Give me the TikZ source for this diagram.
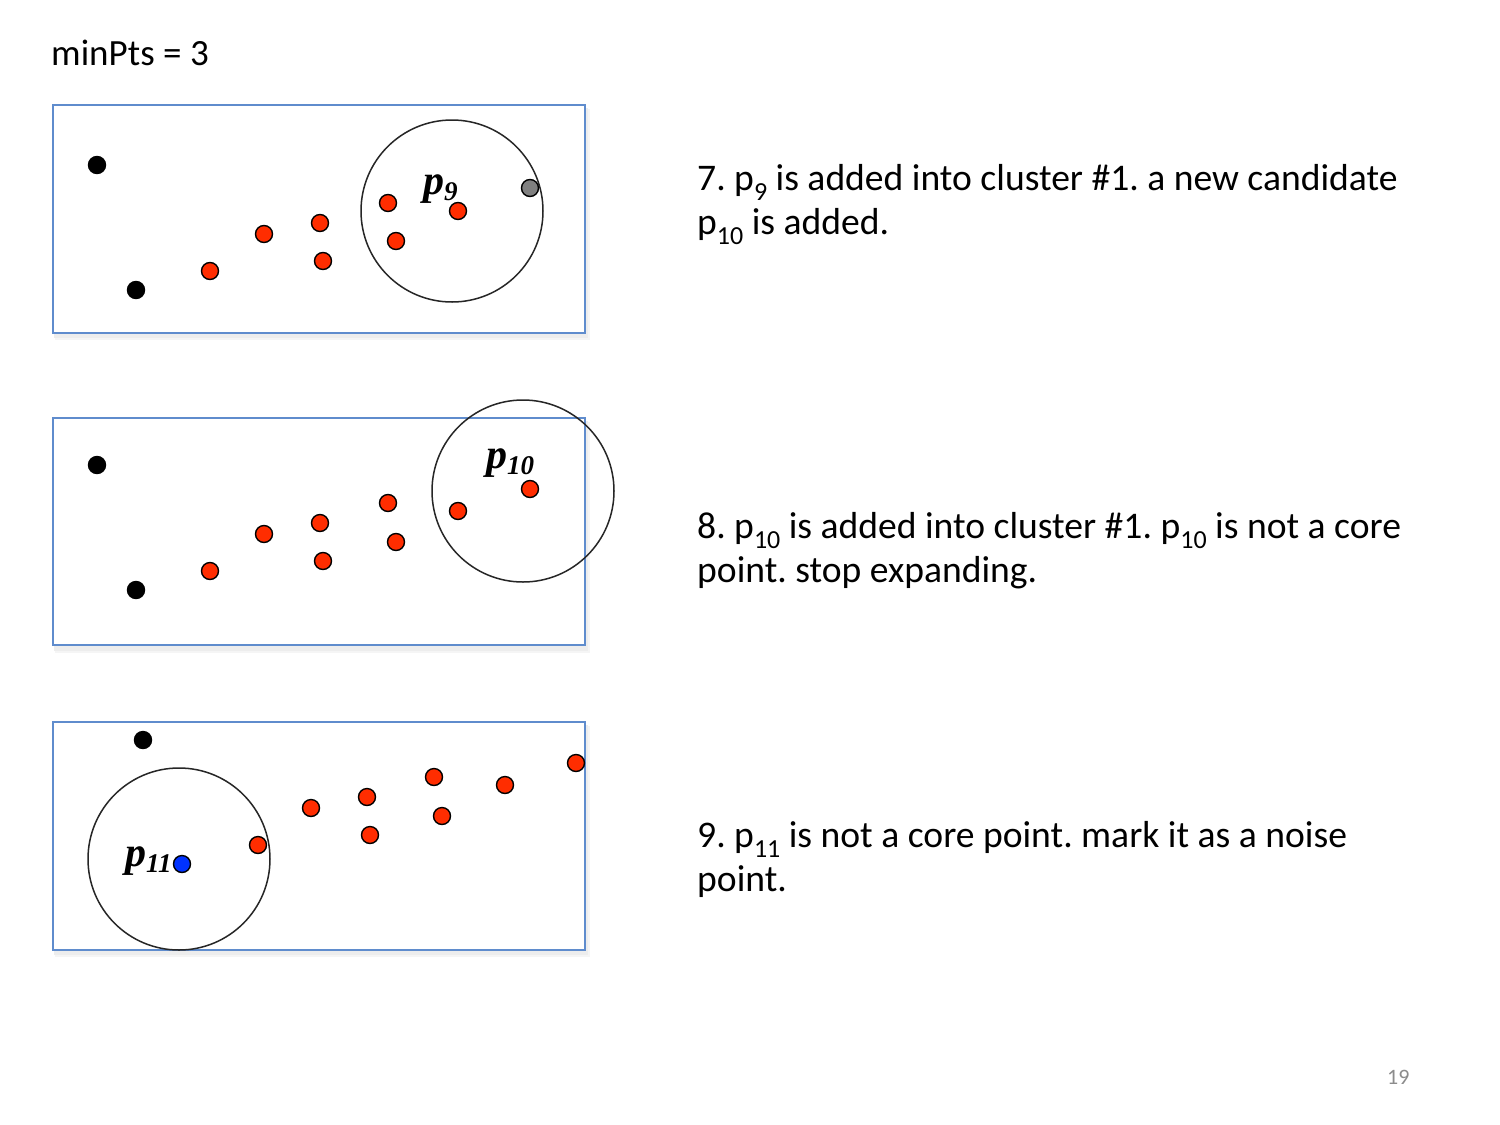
\documentclass[tikz,border=0pt]{standalone}
\usepackage{fontspec}
\setmainfont{Carlito}
\newfontfamily\lblfont{Liberation Serif}
\definecolor{ptred}{RGB}{255,45,0}
\definecolor{ptblue}{RGB}{0,50,255}
\definecolor{ptgray}{RGB}{128,128,128}
\definecolor{boxblue}{RGB}{95,140,205}
\definecolor{pgnum}{RGB}{140,140,140}
\newcommand{\sbs}[1]{\raisebox{-0.28em}{\fontsize{26}{26}\selectfont #1}}
\newcommand{\plbl}[1]{{\lblfont\bfseries\itshape\fontsize{42}{42}\selectfont p\raisebox{-6pt}{\fontsize{27}{27}\selectfont #1}}}
\frenchspacing
\begin{document}
\begin{tikzpicture}[x=1pt,y=-1pt,
  dot/.style={circle,draw=black,line width=1.4pt,minimum size=17pt,inner sep=0pt},
  reddot/.style={dot,fill=ptred},
  blackdot/.style={dot,fill=black},
  graydot/.style={dot,fill=ptgray},
  bluedot/.style={dot,fill=ptblue},
  panel/.style={draw=boxblue,line width=1.3pt,fill=white},
  eps/.style={draw=black!85,line width=1.5pt},
  lbl/.style={inner sep=0pt,anchor=base west},
  body/.style={inner sep=0pt,anchor=base west,align=left,font=\fontsize{37.6}{44}\selectfont}]
\useasboundingbox[fill=white] (0,0) rectangle (1500,1125);
\node[inner sep=0pt,anchor=base west,font=\fontsize{37}{44}\selectfont] (minpts) at (51,65) {minPts = 3};
% shadows
\foreach \yy in {105,418,722}{
  \fill[black!4] (55,\yy+4) rectangle (590,\yy+235);
  \fill[black!7] (54,\yy+3) rectangle (588,\yy+233);
}
% panel 1
\draw[panel] (53,105) rectangle (585,333);
\draw[eps] (452,211) circle[radius=91];
\node[blackdot] (a1) at (97,165) {};
\node[blackdot] (a2) at (136,290) {};
\node[reddot] (a3) at (210,271) {};
\node[reddot] (a4) at (264,234) {};
\node[reddot] (a5) at (320,223) {};
\node[reddot] (a6) at (323,261) {};
\node[reddot] (a7) at (388,203) {};
\node[reddot] (a8) at (396,241) {};
\node[reddot] (a9) at (458,211) {};
\node[graydot] (a10) at (530,188) {};
\node[lbl] (l9) at (423,194) {\plbl{9}};
% panel 2
\draw[panel] (53,418) rectangle (585,645);
\draw[eps] (523,491) circle[radius=91];
\node[blackdot] (b1) at (97,465) {};
\node[blackdot] (b2) at (136,590) {};
\node[reddot] (b3) at (210,571) {};
\node[reddot] (b4) at (264,534) {};
\node[reddot] (b5) at (320,523) {};
\node[reddot] (b6) at (323,561) {};
\node[reddot] (b7) at (388,503) {};
\node[reddot] (b8) at (396,542) {};
\node[reddot] (b9) at (458,511) {};
\node[reddot] (b10) at (530,489) {};
\node[lbl] (l10) at (486,468) {\plbl{10}};
% panel 3
\draw[panel] (53,722) rectangle (585,950);
\draw[eps] (179,859) circle[radius=91];
\node[blackdot] (c1) at (143,740) {};
\node[reddot] (c2) at (258,845) {};
\node[reddot] (c3) at (311,808) {};
\node[reddot] (c4) at (367,797) {};
\node[reddot] (c5) at (370,835) {};
\node[reddot] (c6) at (434,777) {};
\node[reddot] (c7) at (442,816) {};
\node[reddot] (c8) at (505,785) {};
\node[reddot] (c9) at (576,763) {};
\node[bluedot] (c10) at (182,864) {};
\node[lbl] (l11) at (125,866) {\plbl{11}};
% texts (base anchor = last line)
\node[body] (t7) at (697,234) {7. p\sbs{9} is added into cluster \#1. a new candidate\\p\sbs{10} is added.};
\node[body] (t8) at (697,582) {8. p\sbs{10} is added into cluster \#1. p\sbs{10} is not a core\\point. stop expanding.};
\node[body] (t9) at (697,891) {9. p\sbs{11} is not a core point. mark it as a noise\\point.};
\node[inner sep=0pt,anchor=base west,text=pgnum,font=\fontsize{22}{22}\selectfont] (pg) at (1387,1084) {19};
\end{tikzpicture}
\end{document}
